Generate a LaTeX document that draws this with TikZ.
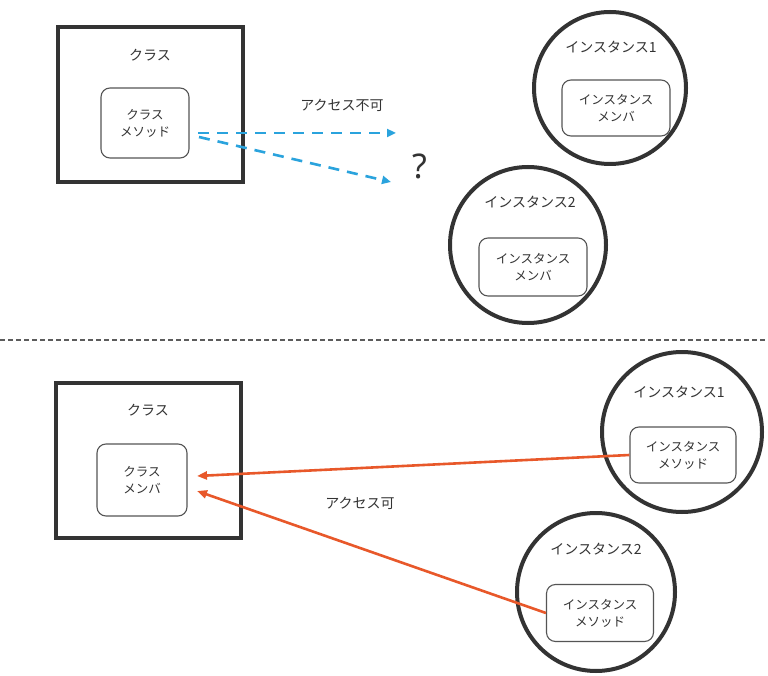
\documentclass[tikz,border=0pt]{standalone}
\usepackage{fontspec}
\setmainfont{Noto Sans CJK JP}
\usetikzlibrary{arrows.meta}
\definecolor{frame}{HTML}{333333}
\definecolor{inner}{HTML}{555555}
\definecolor{acblue}{HTML}{2AA3DD}
\definecolor{acorange}{HTML}{E8582A}
\definecolor{txt}{HTML}{333333}
\tikzset{
  outerbox/.style={draw=frame,line width=4pt,fill=white},
  instcircle/.style={circle,draw=frame,line width=4pt,fill=white,inner sep=0pt},
  innerbox/.style={draw=inner,line width=1.1pt,rounded corners=9pt,fill=white,align=center,inner sep=0pt,font=\fontsize{12.5}{17}\selectfont,text=txt},
  title/.style={font=\fontsize{14}{17}\selectfont,text=txt,inner sep=0pt},
  lbl/.style={font=\fontsize{14}{17}\selectfont,text=txt,inner sep=0pt},
  bluearrow/.style={draw=acblue,line width=2.6pt,dash pattern=on 11pt off 8pt,-{Triangle[length=9pt,width=8pt]}},
  orangearrow/.style={draw=acorange,line width=2.6pt,-{Triangle[length=10pt,width=8pt]}},
}
\begin{document}
\begin{tikzpicture}[x=1pt,y=-1pt]
\useasboundingbox (0,0) rectangle (768,676);
\fill[white] (0,0) rectangle (768,676);
% ---------- top half ----------
\draw[outerbox] (58,27) rectangle (243,182);
\node[title] (tclass) at (150,55) {クラス};
\node[innerbox,minimum width=88pt,minimum height=70pt] (tmeth) at (145,123) {クラス\\メソッド};
\node[instcircle,minimum size=152pt] (ti1c) at (610,88) {};
\node[title] (ti1t) at (611,47) {インスタンス1};
\node[innerbox,minimum width=108pt,minimum height=56pt] (ti1m) at (616,108) {インスタンス\\メンバ};
\node[instcircle,minimum size=156pt] (ti2c) at (528,245) {};
\node[title] (ti2t) at (530,202) {インスタンス2};
\node[innerbox,minimum width=108pt,minimum height=58pt] (ti2m) at (533,267) {インスタンス\\メンバ};
\coordinate (bs1) at (198,133);
\coordinate (bs2) at (199,137);
\coordinate (bA) at (396,133);
\coordinate (bB) at (391,182);
\draw[bluearrow] (bs1) -- (bA);
\draw[bluearrow] (bs2) -- (bB);
\node[lbl] (na) at (342,105) {アクセス不可};
\node[inner sep=0pt,text=txt,font={\fontspec{Noto Sans}\fontsize{34}{40}\selectfont}] (q) at (420,166) {?};
% ---------- separator ----------
\coordinate (sepL) at (0,340);
\coordinate (sepR) at (768,340);
\draw[draw=frame!80,line width=1.3pt,dash pattern=on 5pt off 3pt] (sepL) -- (sepR);
% ---------- bottom half ----------
\draw[outerbox] (56,383) rectangle (241,538);
\node[title] (bclass) at (148,410) {クラス};
\node[innerbox,minimum width=90pt,minimum height=72pt] (bmem) at (142,480) {クラス\\メンバ};
\node[instcircle,minimum size=160pt] (bi1c) at (682,432) {};
\node[title] (bi1t) at (679,392) {インスタンス1};
\node[innerbox,minimum width=106pt,minimum height=56pt] (bi1m) at (683,455) {インスタンス\\メソッド};
\node[instcircle,minimum size=158pt] (bi2c) at (596,592) {};
\node[title] (bi2t) at (596,549) {インスタンス2};
\node[innerbox,minimum width=107pt,minimum height=57pt] (bi2m) at (600,613) {インスタンス\\メソッド};
\coordinate (tA) at (197,476);
\coordinate (tB) at (197,491);
\draw[orangearrow] (bi1m.west) -- (tA);
\draw[orangearrow] (bi2m.west) -- (tB);
\node[lbl] (nb) at (360,503) {アクセス可};
\end{tikzpicture}
\end{document}
